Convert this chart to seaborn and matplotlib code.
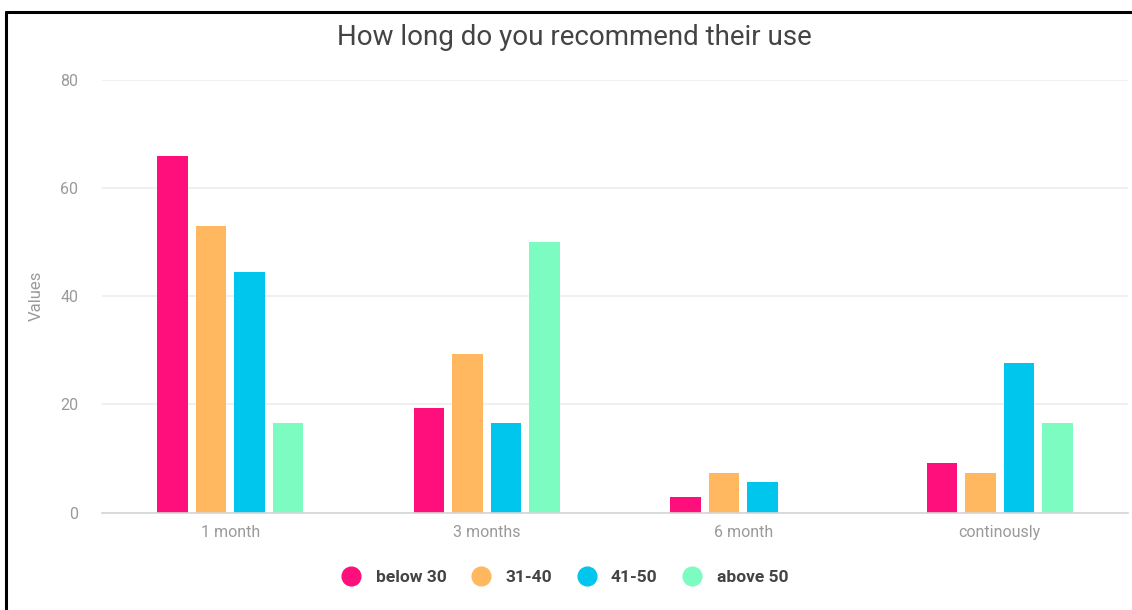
import matplotlib
matplotlib.use("Agg")
import matplotlib.pyplot as plt
from matplotlib.lines import Line2D
import seaborn as sns
import pandas as pd

# valores
periodos = ["1 month", "3 months", "6 month", "continously"]
grupos = ["below 30", "31-40", "41-50", "above 50"]
below_30 = [66.0, 19.4, 2.8, 9.2]
de_31_40 = [52.9, 29.4, 7.3, 7.3]
de_41_50 = [44.4, 16.6, 5.6, 27.7]
above_50 = [16.6, 50.0, 0.0, 16.6]
colores = ["#FF0F7B", "#FFB860", "#00C6EE", "#7CFCC0"]

df = pd.DataFrame({
    "periodo": periodos * 4,
    "grupo": [g for g in grupos for _ in periodos],
    "valor": below_30 + de_31_40 + de_41_50 + above_50,
})

sns.set_theme(style="white")
plt.rcParams["font.family"] = ["Roboto", "DejaVu Sans"]

fig = plt.figure(figsize=(11.32, 6.10), dpi=100)
ax = fig.add_axes([0.0901, 0.1598, 0.9064, 0.7091])

sns.barplot(data=df, x="periodo", y="valor", hue="grupo", hue_order=grupos,
            palette=colores, width=0.6, gap=0.2, ax=ax, legend=False,
            saturation=1, linewidth=0)

ax.set_ylim(0, 80)
ax.set_yticks([0, 20, 40, 60, 80])
ax.set_xlim(-0.5, 3.5)
ax.grid(axis="y", color="#eeeeee", linewidth=1.2)
ax.set_axisbelow(True)
for s in ["top", "right", "left"]:
    ax.spines[s].set_visible(False)
ax.spines["bottom"].set_color("#d5d5d5")
ax.spines["bottom"].set_linewidth(1.2)
ax.tick_params(axis="both", length=0, labelsize=11.5, labelcolor="#9a9a9a")
ax.tick_params(axis="y", pad=17)
ax.tick_params(axis="x", pad=9)
ax.set_xlabel("")
ax.set_ylabel("Values", fontsize=12, color="#9a9a9a")
ax.yaxis.set_label_coords(-0.057, 0.5)

fig.text(0.507, 0.939, "How long do you recommend their use",
         ha="center", va="center", fontsize=20, color="#444444")

handles = [Line2D([0], [0], marker="o", linestyle="", markersize=13.5,
                  markerfacecolor=c, markeredgecolor=c) for c in colores]
leg = fig.legend(handles, grupos, loc="center", bbox_to_anchor=(0.4956, 0.053),
                 ncol=4, frameon=False, handletextpad=0.4, columnspacing=1.0,
                 prop={"weight": "bold", "size": 12.5})
for t in leg.get_texts():
    t.set_color("#444444")

# marco negro (arriba e izquierda)
fig.add_artist(Line2D([6 / 1132, 6 / 1132], [0, 1 - 12 / 610],
                      transform=fig.transFigure, color="black", linewidth=2.2))
fig.add_artist(Line2D([6 / 1132, 1], [1 - 12 / 610, 1 - 12 / 610],
                      transform=fig.transFigure, color="black", linewidth=2.2))

fig.savefig("out.png", dpi=100, facecolor="white")
